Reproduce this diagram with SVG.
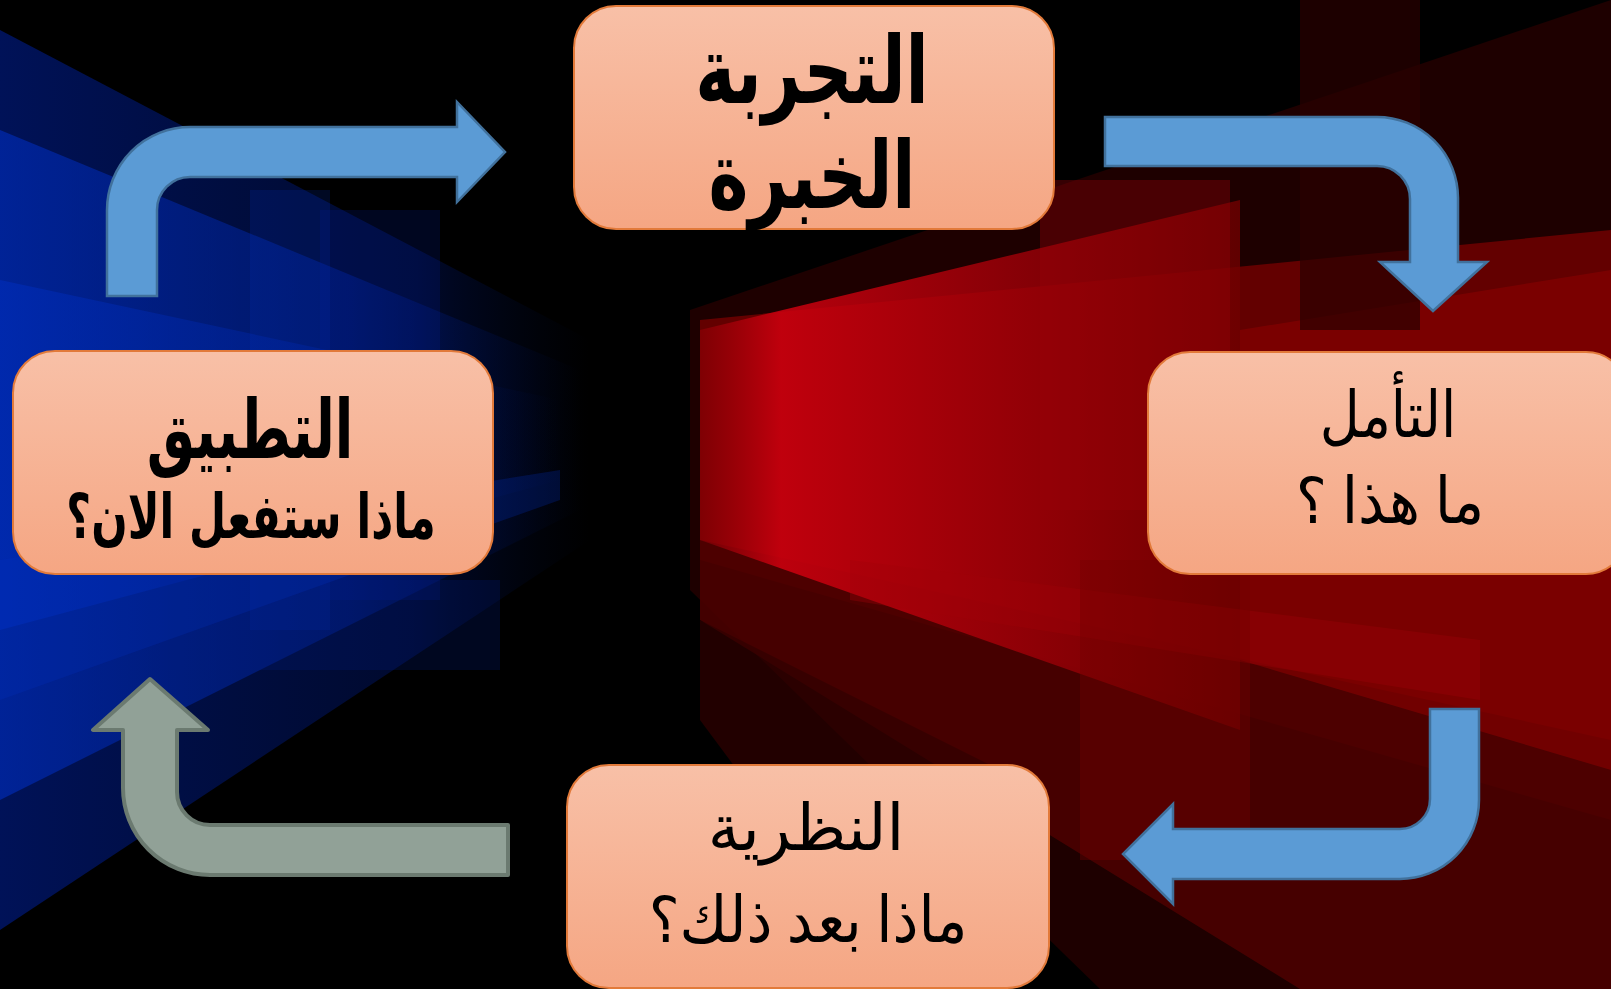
<svg xmlns="http://www.w3.org/2000/svg" width="1611" height="989" viewBox="0 0 1611 989">
<defs>
<linearGradient id="boxg" x1="0" y1="0" x2="0" y2="1">
<stop offset="0" stop-color="#f8c0a7"/>
<stop offset="1" stop-color="#f5a683"/>
</linearGradient>
<linearGradient id="bluefade" x1="0" y1="0" x2="1" y2="0">
<stop offset="0" stop-color="#0030c8" stop-opacity="0.8"/>
<stop offset="0.6" stop-color="#0028b0" stop-opacity="0.55"/>
<stop offset="1" stop-color="#001a80" stop-opacity="0"/>
</linearGradient>
<linearGradient id="navyfade" x1="0" y1="0" x2="1" y2="0">
<stop offset="0" stop-color="#001258" stop-opacity="1"/>
<stop offset="0.7" stop-color="#000c3a" stop-opacity="0.8"/>
<stop offset="1" stop-color="#000820" stop-opacity="0"/>
</linearGradient>
<linearGradient id="redfade" x1="0" y1="0" x2="1" y2="0">
<stop offset="0" stop-color="#c0000c" stop-opacity="0.3"/>
<stop offset="0.15" stop-color="#d0000f" stop-opacity="0.85"/>
<stop offset="0.6" stop-color="#a00008" stop-opacity="0.8"/>
<stop offset="1" stop-color="#700000" stop-opacity="0.8"/>
</linearGradient>
<style>
.box{fill:url(#boxg);stroke:#e27a3a;stroke-width:2}
.bold{font-family:"DejaVu Sans","Noto Sans",sans-serif;font-weight:bold;fill:#000;text-anchor:middle}
.ser{font-family:"Liberation Serif","DejaVu Sans","Noto Sans",serif;fill:#000;text-anchor:middle}
.blue{fill:#5b9bd5;stroke:#41719c;stroke-width:2.5}
.grey{fill:#91a197;stroke:#6b7a70;stroke-width:4;stroke-linejoin:round}
</style>
</defs>
<g id="background">
<rect x="0" y="0" width="1611" height="989" fill="#000"/>
<polygon points="0,30 590,340 590,540 0,930" fill="url(#navyfade)"/>
<polygon points="0,130 580,370 580,510 0,800" fill="url(#bluefade)" opacity="0.7"/>
<polygon points="0,280 560,400 560,480 0,630" fill="url(#bluefade)" opacity="0.55"/>
<rect x="250" y="190" width="80" height="440" fill="#0030c0" opacity="0.18"/>
<rect x="320" y="210" width="120" height="390" fill="#0020a0" opacity="0.2"/>
<rect x="160" y="580" width="340" height="90" fill="#001a80" opacity="0.25"/>
<polygon points="0,560 560,470 560,500 0,700" fill="#0030c0" opacity="0.25"/>
<polygon points="690,310 1611,0 1611,989 1100,989 690,590" fill="#1e0000"/>
<polygon points="700,320 1611,230 1611,820 700,560" fill="#6a0000" opacity="0.9"/>
<polygon points="700,540 1611,740 1611,989 1300,989 700,620" fill="#4a0000" opacity="0.9"/>
<polygon points="700,330 1240,200 1240,730 700,540" fill="url(#redfade)"/>
<polygon points="1240,330 1611,270 1611,770 1240,660" fill="#8a0000" opacity="0.6"/>
<rect x="1300" y="0" width="120" height="330" fill="#2a0000" opacity="0.7"/>
<rect x="1040" y="180" width="190" height="330" fill="#9a0008" opacity="0.35"/>
<polygon points="850,560 1480,640 1480,700 850,600" fill="#a0000a" opacity="0.35"/>
<polygon points="700,620 1000,770 1000,989 900,989 700,720" fill="#300000" opacity="0.7"/>
<rect x="1080" y="560" width="170" height="300" fill="#700000" opacity="0.4"/>
</g>
<g id="connectors">
<path id="arrow-1" class="blue" d="M107,296 L107,210 A83,83 0 0 1 190,127 L457,127 L457,102 L505,152 L457,202 L457,177 L190,177 A33,33 0 0 0 157,210 L157,296 Z"/>
<path id="arrow-2" class="blue" d="M1105,117 L1377,117 A81,81 0 0 1 1458,198 L1458,262 L1487,262 L1433,311 L1380,262 L1410,262 L1410,199 A33,33 0 0 0 1377,166 L1105,166 Z"/>
<path id="arrow-3" class="blue" d="M1430,709 L1479,709 L1479,800 A79,79 0 0 1 1400,879 L1173,879 L1173,904 L1123,854 L1173,804 L1173,829 L1400,829 A30,30 0 0 0 1430,799 Z"/>
<path id="arrow-4" class="grey" d="M508,825 L210,825 A33,33 0 0 1 177,792 L177,730 L208,730 L150,679 L93,730 L123,730 L123,788 A87,87 0 0 0 210,875 L508,875 Z"/>
</g>
<g id="node-experience">
<rect class="box" x="574" y="6" width="480" height="223" rx="42"/>
<text class="bold" transform="translate(812,103) scale(0.72,1)" x="0" y="0" font-size="94">التجربة</text>
<text class="bold" transform="translate(812,208) scale(0.72,1)" x="0" y="0" font-size="94">الخبرة</text>
</g>
<g id="node-application">
<rect class="box" x="13" y="351" width="480" height="223" rx="42"/>
<text class="bold" transform="translate(250,458) scale(0.66,1)" x="0" y="0" font-size="82">التطبيق</text>
<text class="bold" transform="translate(251,538) scale(0.69,1)" x="0" y="0" font-size="62">ماذا ستفعل الان؟</text>
</g>
<g id="node-reflection">
<rect class="box" x="1148" y="352" width="480" height="222" rx="42"/>
<text class="ser" transform="translate(1388,437) scale(0.86,1)" x="0" y="0" font-size="64">التأمل</text>
<text class="ser" transform="translate(1390,523) scale(0.92,1)" x="0" y="0" font-size="64">ما هذا ؟</text>
</g>
<g id="node-theory">
<rect class="box" x="567" y="765" width="482" height="223" rx="42"/>
<text class="ser" x="806" y="850" font-size="64">النظرية</text>
<text class="ser" transform="translate(808,942) scale(0.91,1)" x="0" y="0" font-size="64">ماذا بعد ذلك؟</text>
</g>
</svg>
